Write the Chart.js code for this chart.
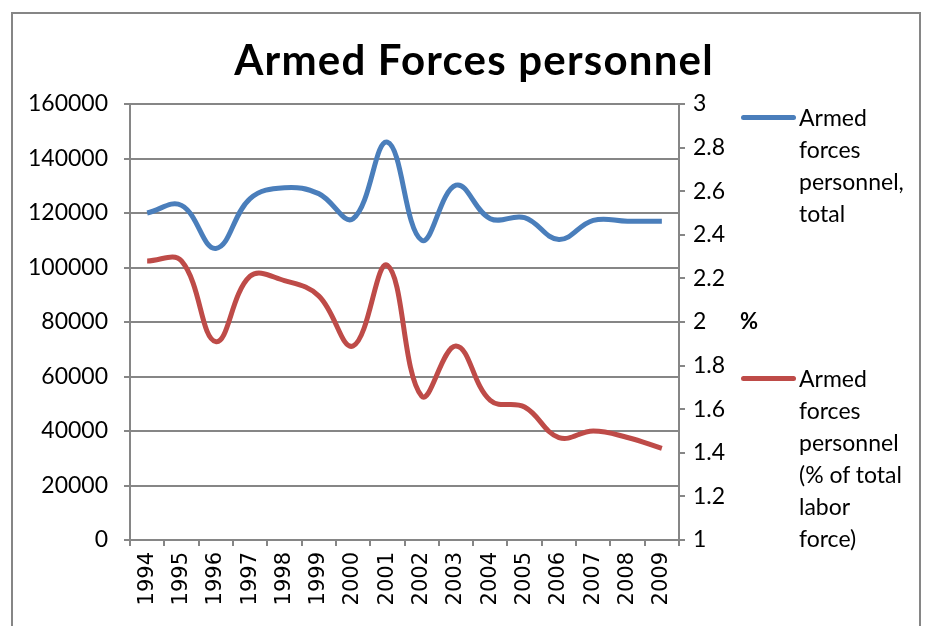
<!DOCTYPE html>
<html>
<head>
<meta charset="utf-8">
<script src="https://cdn.jsdelivr.net/npm/chart.js@4.4.1/dist/chart.umd.min.js"></script>
<style>
  html, body { margin: 0; padding: 0; background: #fff; overflow: hidden; }
  #wrap { position: relative; width: 926px; height: 626px; }
  #frame { position: absolute; left: 11px; top: 12px; width: 910px; height: 700px; border: 2px solid #868686; box-sizing: border-box; }
  #title { position: absolute; left: 0; width: 948px; top: 34px; text-align: center; font: bold 42px Lato, sans-serif; letter-spacing: 1.2px; color: #000; }
  .legend-item { position: absolute; left: 741px; font: 23px Lato, sans-serif; line-height: 32px; color: #000; }
  .legend-item .swatch { position: absolute; left: 0; top: 14px; width: 55px; height: 5px; border-radius: 3px; }
  .legend-item .text { margin-left: 58px; }
  canvas { position: absolute; left: 0; top: 0; }
</style>
</head>
<body>
<div id="wrap">
  <div id="frame"></div>
  <canvas id="armedForces" width="926" height="626"></canvas>
  <div id="title">Armed Forces personnel</div>
  <div class="legend-item" style="top: 101px;">
    <div class="swatch" style="background:#4A7EBB"></div>
    <div class="text">Armed<br>forces<br>personnel,<br>total</div>
  </div>
  <div class="legend-item" style="top: 362px;">
    <div class="swatch" style="background:#BE4B48"></div>
    <div class="text">Armed<br>forces<br>personnel<br>(% of total<br>labor<br>force)</div>
  </div>
</div>
<script>
  // Chart data
  const years = ["1994", "1995", "1996", "1997", "1998", "1999", "2000", "2001",
    "2002", "2003", "2004", "2005", "2006", "2007", "2008", "2009"];
  const totalPersonnel = [120000, 122800, 107000, 125300, 129300, 127100, 117900, 146000,
    110000, 130200, 117900, 118300, 110300, 117300, 117000, 117000];
  const laborPercent = [2.28, 2.28, 1.91, 2.21, 2.19, 2.12, 1.89, 2.26,
    1.66, 1.89, 1.64, 1.61, 1.47, 1.50, 1.47, 1.42];

  const gridGray = "#868686";

  // draws the bold "%" next to the right axis
  const percentLabel = {
    id: "percentLabel",
    afterDraw(chart) {
      const ctx = chart.ctx;
      const y1 = chart.scales.y1;
      ctx.save();
      ctx.font = "bold 22px Lato, sans-serif";
      ctx.fillStyle = "#000";
      ctx.textAlign = "left";
      ctx.textBaseline = "middle";
      ctx.fillText("%", y1.right + 1, y1.getPixelForValue(2));
      ctx.restore();
    },
  };

  new Chart(document.getElementById("armedForces"), {
    type: "line",
    data: {
      labels: years,
      datasets: [
        {
          label: "Armed forces personnel, total",
          data: totalPersonnel,
          borderColor: "#4A7EBB",
          borderWidth: 5,
          tension: 0.4,
          pointRadius: 0,
          yAxisID: "y",
        },
        {
          label: "Armed forces personnel (% of total labor force)",
          data: laborPercent,
          borderColor: "#BE4B48",
          borderWidth: 5,
          tension: 0.4,
          pointRadius: 0,
          yAxisID: "y1",
        },
      ],
    },
    options: {
      responsive: false,
      animation: false,
      layout: {
        padding: { left: 0, top: 104, right: 187, bottom: 0 },
      },
      plugins: {
        legend: { display: false },
        title: { display: false },
        tooltip: { enabled: false },
      },
      scales: {
        x: {
          offset: true,
          grid: {
            offset: true,
            drawOnChartArea: false,
            color: gridGray,
            lineWidth: 2,
            tickLength: 6,
          },
          border: { color: gridGray, width: 2 },
          ticks: {
            minRotation: 90,
            maxRotation: 90,
            padding: 6,
            color: "#000",
            font: { family: "DejaVu Sans", size: 21 },
          },
          afterFit(scale) {
            scale.height = 86;
          },
        },
        y: {
          position: "left",
          min: 0,
          max: 160000,
          grid: {
            color: gridGray,
            lineWidth: 2,
            tickLength: 6,
          },
          border: { color: gridGray, width: 2 },
          ticks: {
            stepSize: 20000,
            padding: 16,
            color: "#000",
            font: { family: "Lato", size: 23 },
            callback: function (value) {
              return String(value);
            },
          },
          afterFit(scale) {
            scale.width = 130;
          },
        },
        y1: {
          position: "right",
          min: 1,
          max: 3,
          grid: {
            drawOnChartArea: false,
            color: gridGray,
            lineWidth: 2,
            tickLength: 6,
          },
          border: { color: gridGray, width: 2 },
          ticks: {
            stepSize: 0.2,
            padding: 8,
            color: "#000",
            font: { family: "Lato", size: 23 },
            callback: function (value) {
              return String(Number(value.toFixed(1)));
            },
          },
          afterFit(scale) {
            scale.width = 60;
          },
        },
      },
    },
    plugins: [percentLabel],
  });
</script>
</body>
</html>
